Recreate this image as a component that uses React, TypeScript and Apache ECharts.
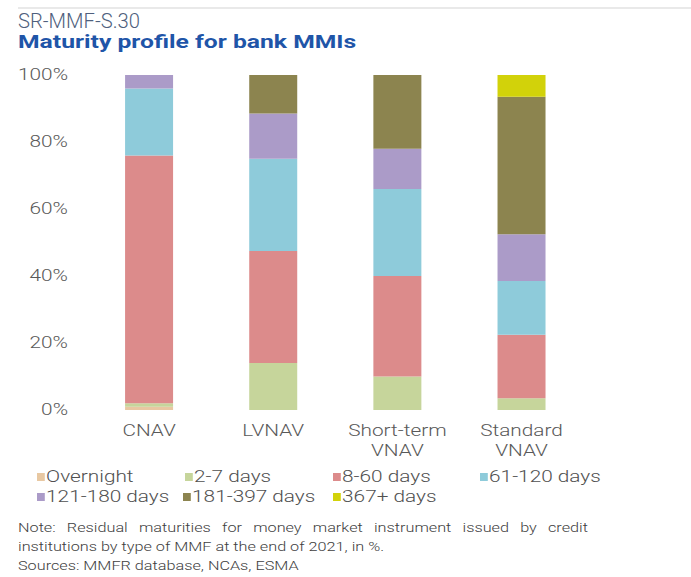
import React, { useEffect, useRef } from "react";
import * as echarts from "echarts";

const categories = ["CNAV", "LVNAV", "Short-term\nVNAV", "Standard\nVNAV"];
const seriesNames = ["Overnight", "2-7 days", "8-60 days", "61-120 days", "121-180 days", "181-397 days", "367+ days"];
const overnight = [1, 0, 0, 0];
const days2to7 = [1, 14, 10, 3.5];
const days8to60 = [74, 33.5, 30, 19];
const days61to120 = [20, 27.5, 26, 16];
const days121to180 = [4, 13.5, 12, 14];
const days181to397 = [0, 11.5, 22, 41];
const days367plus = [0, 0, 0, 6.5];
const yTicks = [0, 20, 40, 60, 80, 100];
const noteLine1 = "Note: Residual maturities for money market instrument issued by credit";
const noteLine2 = "institutions by type of MMF at the end of 2021, in %.";
const noteLine3 = "Sources: MMFR database, NCAs, ESMA";

const seriesValues = [overnight, days2to7, days8to60, days61to120, days121to180, days181to397, days367plus];
const colors = ["#e8c8a2", "#c6d59b", "#dc8b8b", "#8ecbda", "#ab9bc8", "#8c844f", "#d2d20a"];

// the picture is stretched horizontally; draw in a narrower frame and scale it
const S = 1.3;
const W = 691 / S;
const X = (px: number) => px / S;

const legendPos = [
  [37, 468], [185, 468], [333, 468], [480, 468],
  [37, 488], [183, 488], [333, 488],
];

const FONT = "Roboto, 'Liberation Sans', sans-serif";
const NOTE_FONT = `300 12.5px ${FONT}`;

function justifiedWords(text: string, left: number, right: number, y: number) {
  const ctx = document.createElement("canvas").getContext("2d")!;
  ctx.font = NOTE_FONT;
  const words = text.split(" ");
  const widths = words.map((w) => ctx.measureText(w).width);
  const total = widths.reduce((a, b) => a + b, 0);
  const gap = (right - left - total) / (words.length - 1);
  let x = left;
  return words.map((w, i) => {
    const el = {
      type: "text",
      x,
      y,
      style: { text: w, fill: "#404040", font: NOTE_FONT, verticalAlign: "middle" },
    };
    x += widths[i] + gap;
    return el;
  });
}

export default function App() {
  const ref = useRef<HTMLDivElement>(null);
  useEffect(() => {
    document.body.style.margin = "0";
    const chart = echarts.init(ref.current!, undefined, { renderer: "svg" });
    chart.setOption({
      animation: false,
      backgroundColor: "#ffffff",
      textStyle: { fontFamily: FONT },
      grid: { left: X(87), right: W - X(583), top: 75, bottom: 167 },
      xAxis: {
        type: "category",
        data: categories,
        axisLine: { show: false },
        axisTick: { show: false },
        axisLabel: { interval: 0, color: "#595959", fontSize: 16, fontWeight: 300, margin: 11, lineHeight: 20, fontFamily: FONT },
      },
      yAxis: {
        type: "value",
        min: yTicks[0],
        max: yTicks[yTicks.length - 1],
        interval: 20,
        axisLine: { show: false },
        axisTick: { show: false },
        splitLine: { show: false },
        axisLabel: { color: "#595959", fontSize: 16, fontWeight: 300, margin: X(19), formatter: "{value}%", fontFamily: FONT },
      },
      legend: seriesNames.map((name, i) => ({
        data: [name],
        left: X(legendPos[i][0]),
        top: legendPos[i][1],
        padding: 0,
        icon: "rect",
        itemWidth: 6,
        itemHeight: 8,
        itemGap: 2,
        textStyle: { color: "#505050", fontSize: 16, fontWeight: 300, lineHeight: 18, padding: [0, 0, 0, -4], fontFamily: FONT },
      })),
      series: seriesNames.map((name, i) => ({
        name,
        type: "bar",
        stack: "total",
        barWidth: X(48),
        data: seriesValues[i],
        itemStyle: { color: colors[i] },
      })),
      graphic: [
        { type: "line", shape: { x1: X(18), y1: 8, x2: W, y2: 8 }, style: { stroke: "#d4d4d4", lineWidth: 1 } },
        { type: "text", x: X(18), y: 21, scaleX: 0.74, style: { text: "SR-MMF-S.30", fill: "#4f5f7d", font: `300 21px ${FONT}`, verticalAlign: "middle" } },
        { type: "text", x: X(18), y: 42, style: { text: "Maturity profile for bank MMIs", fill: "#1f55a8", font: `bold 19px ${FONT}`, verticalAlign: "middle" } },
        ...justifiedWords(noteLine1, X(18), X(588), 528),
        { type: "text", x: X(18), y: 547, style: { text: noteLine2, fill: "#404040", font: NOTE_FONT, verticalAlign: "middle" } },
        { type: "text", x: X(18), y: 566, style: { text: noteLine3, fill: "#404040", font: NOTE_FONT, verticalAlign: "middle" } },
      ],
    });
    return () => chart.dispose();
  }, []);
  return (
    <div
      ref={ref}
      style={{
        position: "fixed",
        left: 0,
        top: 0,
        width: W,
        height: 577,
        transform: `scaleX(${S})`,
        transformOrigin: "0 0",
      }}
    />
  );
}
